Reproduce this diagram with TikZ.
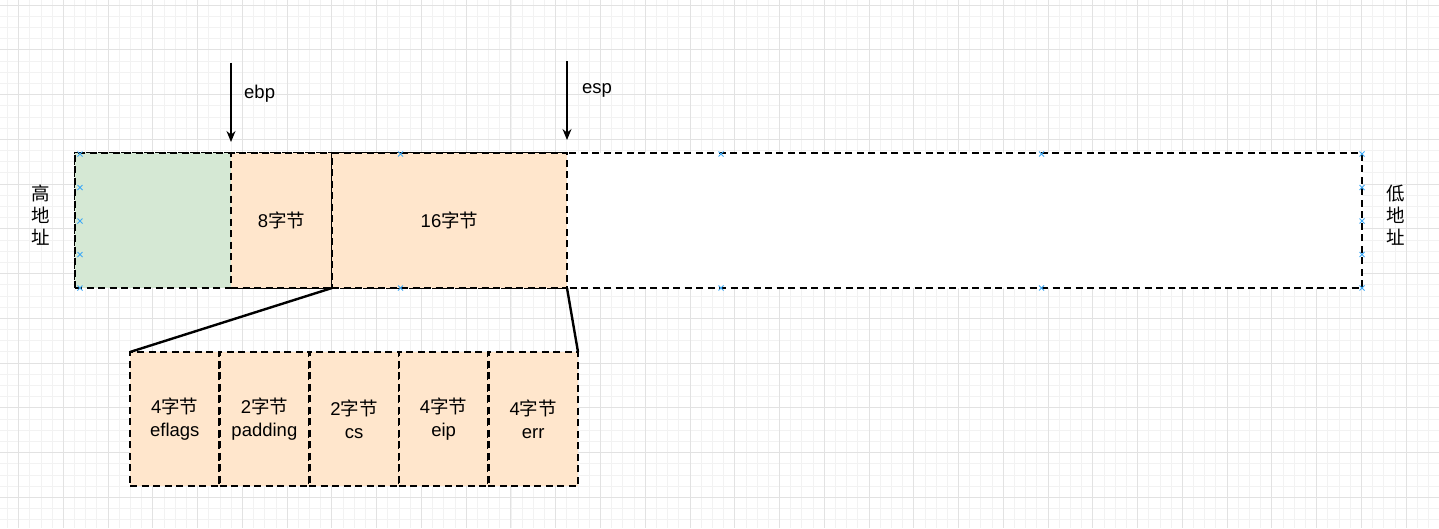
\documentclass[tikz,border=0pt]{standalone}
\usepackage{fontspec}
\setmainfont{Liberation Sans}
\newfontfamily\cjk{Noto Sans CJK SC}
\usetikzlibrary{arrows.meta}
\newcommand\zjtext{{\cjk 字节}}
\definecolor{cellgreen}{HTML}{D5E8D4}
\definecolor{cellorange}{HTML}{FFE6CC}
\definecolor{gridmajor}{HTML}{E2E2E2}
\definecolor{gridminor}{HTML}{F2F2F2}
\definecolor{markblue}{HTML}{3FA9F5}
\tikzset{
  cell/.style={draw=black, line width=2.6pt, dash pattern=on 7pt off 4.5pt,
    inner sep=0pt, outer sep=0pt, anchor=north west, font=\fontsize{18.5}{23}\selectfont, align=center},
  ptr/.style={line width=1.4pt, -{Stealth[length=11pt,width=9pt]}},
  link/.style={line width=2.4pt},
  lbl/.style={font=\fontsize{18.5}{22}\selectfont, inner sep=0pt, align=center},
  mk/.style={markblue, line width=1pt}
}
\begin{document}
\begin{tikzpicture}[x=1pt,y=-1pt]
\useasboundingbox (0,0) rectangle (1439,528);
\fill[white] (0,0) rectangle (1439,528);
% grid
\begin{scope}
\clip (0,0) rectangle (1439,528);
\foreach \i in {0,...,130} {
  \draw[gridminor, line width=0.8pt] ({7.35+11.19*\i},0) -- ({7.35+11.19*\i},528);
}
\foreach \i in {0,...,48} {
  \draw[gridminor, line width=0.8pt] (0,{5+11.19*\i}) -- (1439,{5+11.19*\i});
}
\foreach \i in {0,...,32} {
  \draw[gridmajor, line width=0.9pt] ({18.54+44.76*\i},0) -- ({18.54+44.76*\i},528);
}
\foreach \i in {0,...,12} {
  \draw[gridmajor, line width=0.9pt] (0,{5+44.76*\i}) -- (1439,{5+44.76*\i});
}
\end{scope}
% stack frame
\node[cell, fill=white, minimum width=1287pt, minimum height=135pt] (frame) at (75,153) {};
\node[cell, fill=cellgreen, minimum width=156pt, minimum height=135pt] (g) at (75,153) {};
\node[cell, fill=cellorange, minimum width=101pt, minimum height=135pt] (c8) at (231,153) {8\zjtext};
\node[cell, fill=cellorange, minimum width=235pt, minimum height=135pt] (c16) at (332,153) {16\zjtext};
% connection marks
\foreach \p in {(80,154),(400.5,154),(721,154),(1041.5,154),(1362,154),
                (80,288),(400.5,288),(721,288),(1041.5,288),(1362,288),
                (80,187.5),(80,221),(80,254.5),(1362,187.5),(1362,221),(1362,254.5)} {
  \draw[mk] \p ++(-2.5,-2.5) -- ++(5,5) \p ++(-2.5,2.5) -- ++(5,-5);
}
% pointers
\coordinate (ebptop) at (231,63);
\coordinate (ebptip) at (231,142);
\draw[ptr] (ebptop) -- (ebptip);
\node[lbl, anchor=west] (ebp) at (244,94) {ebp};
\coordinate (esptop) at (567,61);
\coordinate (esptip) at (567,140);
\draw[ptr] (esptop) -- (esptip);
\node[lbl, anchor=west] (esp) at (582,90) {esp};
% side labels
\node[lbl] (high) at (41,215) {{\cjk 高}\\{\cjk 地}\\{\cjk 址}};
\node[lbl] (low) at (1396,215) {{\cjk 低}\\{\cjk 地}\\{\cjk 址}};
% breakdown boxes
\node[cell, fill=cellorange, minimum width=89.6pt, minimum height=134pt] (b1) at (130,352) {4\zjtext\\eflags};
\node[cell, fill=cellorange, minimum width=89.6pt, minimum height=134pt] (b2) at (219.6,352) {2\zjtext\\padding};
\node[cell, fill=cellorange, minimum width=89.6pt, minimum height=134pt] (b3) at (309.2,352) {2\zjtext\\cs};
\node[cell, fill=cellorange, minimum width=89.6pt, minimum height=134pt] (b4) at (398.8,352) {4\zjtext\\eip};
\node[cell, fill=cellorange, minimum width=89.6pt, minimum height=134pt] (b5) at (488.4,352) {4\zjtext\\err};
% zoom lines
\draw[link] (c8.south east) -- (b1.north west);
\draw[link] (c16.south east) -- (b5.north east);
\end{tikzpicture}
\end{document}
